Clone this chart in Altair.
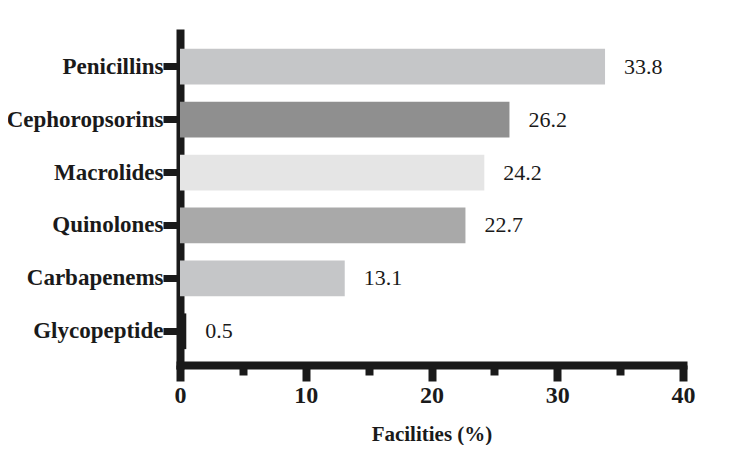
import altair as alt
import pandas as pd

categories = ["Penicillins", "Cephoropsorins", "Macrolides", "Quinolones", "Carbapenems", "Glycopeptide"]
values = [33.8, 26.2, 24.2, 22.7, 13.1, 0.5]
colors = ["#c5c6c8", "#8f8f8f", "#e5e5e5", "#a9a9a9", "#c5c6c8", "#1a1a1a"]
x_ticks = [0, 5, 10, 15, 20, 25, 30, 35, 40]

df = pd.DataFrame({"cat": categories, "val": values, "color": colors,
                   "lab": [f"{v:.1f}" for v in values]})

FONT = "Liberation Serif"

y_enc = alt.Y("cat:N", sort=categories, title=None,
              scale=alt.Scale(paddingInner=0.325, paddingOuter=0.30),
              axis=alt.Axis(domainWidth=8, domainColor="#1a1a1a", domainCap="square",
                            tickWidth=7, tickColor="#1a1a1a", tickSize=17,
                            labelFont=FONT, labelFontWeight="bold", labelFontSize=23,
                            labelColor="#1a1a1a", labelPadding=0, labelLimit=300))

x_enc = alt.X("val:Q", title="Facilities (%)",
              scale=alt.Scale(domain=[0, 40], nice=False),
              axis=alt.Axis(values=x_ticks, domainWidth=8, domainColor="#1a1a1a",
                            domainCap="square",
                            tickWidth=8, tickColor="#1a1a1a",
                            tickSize={"condition": {"test": "datum.value % 10 === 0", "value": 16}, "value": 10},
                            labelExpr="datum.value % 10 === 0 ? datum.label : ''",
                            labelFlush=False,
                            labelFont=FONT, labelFontWeight="bold", labelFontSize=24,
                            labelColor="#1a1a1a", labelPadding=2,
                            titleFont=FONT, titleFontWeight="bold", titleFontSize=21,
                            titleColor="#1a1a1a", titlePadding=16, grid=False))

bars = alt.Chart(df).mark_bar().encode(
    x=x_enc, y=y_enc,
    color=alt.Color("color:N", scale=None),
)

text = alt.Chart(df).mark_text(align="left", baseline="middle", dx=19, font=FONT,
                               fontSize=22, color="#1a1a1a").encode(
    x=alt.X("val:Q"), y=alt.Y("cat:N", sort=categories), text="lab:N")

chart = (bars + text).properties(
    width=503, height=332,
    autosize=alt.AutoSizeParams(type="none"),
    padding={"left": 172, "top": 25, "right": 40, "bottom": 80},
).configure_view(stroke=None)

chart.save("out.html", embed_options={"renderer": "svg", "actions": False})
